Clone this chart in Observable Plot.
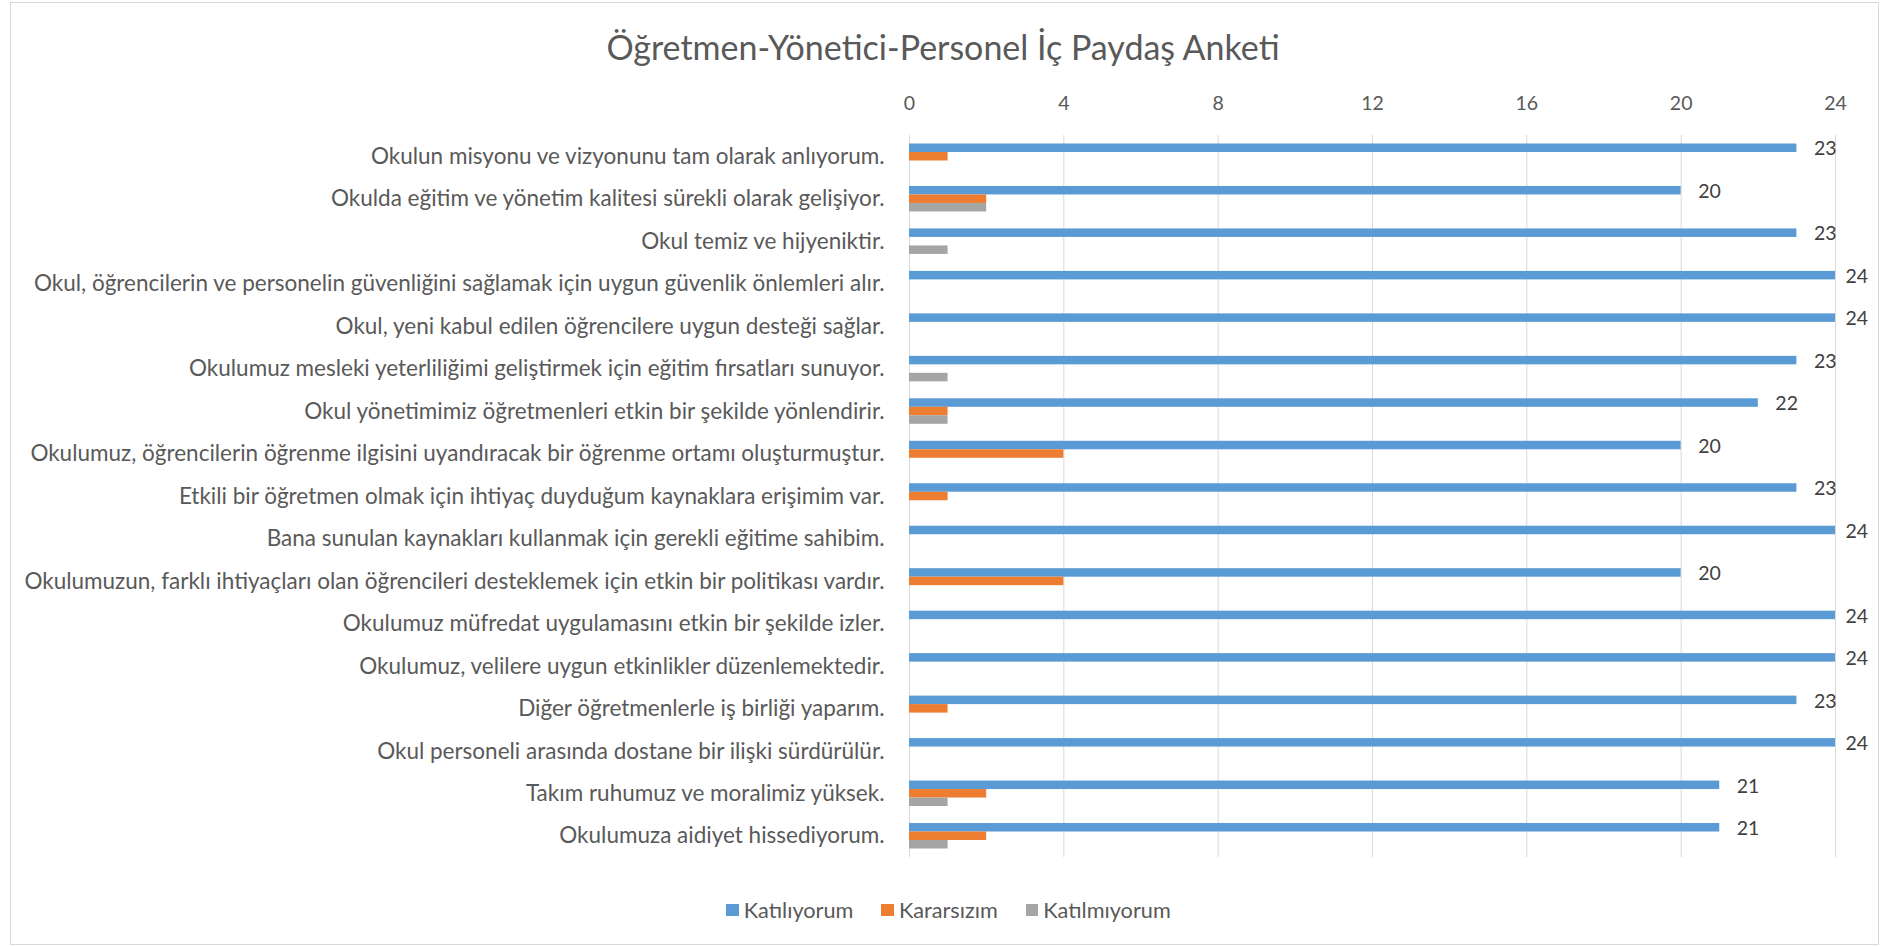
<!DOCTYPE html>
<html>
<head>
<meta charset="utf-8">
<script src="https://cdn.jsdelivr.net/npm/d3@7"></script>
<script src="https://cdn.jsdelivr.net/npm/@observablehq/plot@0.6"></script>
<style>
  html, body { margin: 0; padding: 0; background: #fff; }
  #wrap { position: relative; width: 1885px; height: 947px; font-family: Lato, "Open Sans", sans-serif; color: #595959; overflow: hidden; }
  #frame { position: absolute; left: 10px; top: 2px; width: 1867px; height: 941px; border: 1px solid #d9d9d9; }
  #title { position: absolute; left: 0; top: 0; width: 1886px; height: 94px; line-height: 94px; text-align: center; font-size: 34px; color: #595959; }
  #chart { position: absolute; left: 0; top: 80px; }
  #legend { position: absolute; left: 6px; top: 895px; width: 1885px; height: 30px; display: flex; justify-content: center; align-items: center; font-size: 21.7px; color: #595959; }
  .item { display: flex; align-items: center; margin: 0 14px; }
  .sw { width: 12.5px; height: 12.5px; margin-right: 5px; }
</style>
</head>
<body>
<div id="wrap">
  <div id="frame"></div>
  <div id="title">Öğretmen-Yönetici-Personel İç Paydaş Anketi</div>
  <div id="chart"></div>
  <div id="legend"></div>
</div>
<script>
const questions = [
  "Okulun misyonu ve vizyonunu tam olarak anlıyorum.",
  "Okulda eğitim ve yönetim kalitesi sürekli olarak gelişiyor.",
  "Okul temiz ve hijyeniktir.",
  "Okul, öğrencilerin ve personelin güvenliğini sağlamak için uygun güvenlik önlemleri alır.",
  "Okul, yeni kabul edilen öğrencilere uygun desteği sağlar.",
  "Okulumuz mesleki yeterliliğimi geliştirmek için eğitim fırsatları sunuyor.",
  "Okul yönetimimiz öğretmenleri etkin bir şekilde yönlendirir.",
  "Okulumuz, öğrencilerin öğrenme ilgisini uyandıracak bir öğrenme ortamı oluşturmuştur.",
  "Etkili bir öğretmen olmak için ihtiyaç duyduğum kaynaklara erişimim var.",
  "Bana sunulan kaynakları kullanmak için gerekli eğitime sahibim.",
  "Okulumuzun, farklı ihtiyaçları olan öğrencileri desteklemek için etkin bir politikası vardır.",
  "Okulumuz müfredat uygulamasını etkin bir şekilde izler.",
  "Okulumuz, velilere uygun etkinlikler düzenlemektedir.",
  "Diğer öğretmenlerle iş birliği yaparım.",
  "Okul personeli arasında dostane bir ilişki sürdürülür.",
  "Takım ruhumuz ve moralimiz yüksek.",
  "Okulumuza aidiyet hissediyorum."
];
const katiliyorum  = [23, 20, 23, 24, 24, 23, 22, 20, 23, 24, 20, 24, 24, 23, 24, 21, 21];
const kararsizim   = [1, 2, 0, 0, 0, 0, 1, 4, 1, 0, 4, 0, 0, 1, 0, 2, 2];
const katilmiyorum = [0, 2, 1, 0, 0, 1, 1, 0, 0, 0, 0, 0, 0, 0, 0, 1, 1];
const seriesNames = ["Katılıyorum", "Kararsızım", "Katılmıyorum"];
const seriesColors = ["#5B9BD5", "#ED7D31", "#A5A5A5"];
const xTicks = [0, 4, 8, 12, 16, 20, 24];

const seriesValues = [katiliyorum, kararsizim, katilmiyorum];
const rows = seriesValues.map((vals, si) =>
  questions.map((q, qi) => ({q, s: seriesNames[si], v: vals[qi]}))
);

const W = 1885, H = 800, mT = 55, mB = 23, mL = 909, mR = 50;
const pad = 0.4;
const step = (H - mT - mB) / questions.length;
const ext = 0.2 * step;
const third = step * (1 - pad) / 3;

const numStyle = {fontSize: 19.5, fill: "#404040", textAnchor: "start"};
const maxVal = d3.max(xTicks);

const plot = Plot.plot({
  width: W, height: H,
  marginTop: mT, marginBottom: mB, marginLeft: mL, marginRight: mR,
  style: {fontFamily: "Lato, 'Open Sans', sans-serif", fontSize: "22.5px", color: "#595959", background: "transparent"},
  x: {domain: [0, maxVal], axis: null},
  y: {domain: questions, range: [mT - ext, H - mB + ext], padding: pad, round: false, tickSize: 0, tickPadding: 25, label: null},
  marks: [
    Plot.ruleX(xTicks, {stroke: "#d9d9d9", strokeWidth: 1}),
    Plot.axisX(xTicks, {anchor: "top", tickSize: 0, tickPadding: 26, label: null, fontSize: 19.5}),
    Plot.barX(rows[0], {x: "v", y: "q", fill: seriesColors[0], insetBottom: 2 * third}),
    Plot.barX(rows[1], {x: "v", y: "q", fill: seriesColors[1], insetTop: third, insetBottom: third}),
    Plot.barX(rows[2], {x: "v", y: "q", fill: seriesColors[2], insetTop: 2 * third}),
    Plot.text(rows[0].filter(d => d.v < maxVal), {x: "v", y: "q", text: d => String(d.v), dx: 17, dy: -third + 1, ...numStyle}),
    Plot.text(rows[0].filter(d => d.v >= maxVal), {x: "v", y: "q", text: d => String(d.v), dx: 10, dy: -third + 1, ...numStyle})
  ]
});
document.getElementById("chart").appendChild(plot);

const legend = document.getElementById("legend");
seriesNames.forEach((name, i) => {
  const item = document.createElement("div");
  item.className = "item";
  const sw = document.createElement("div");
  sw.className = "sw";
  sw.style.background = seriesColors[i];
  const lab = document.createElement("span");
  lab.textContent = name;
  item.appendChild(sw);
  item.appendChild(lab);
  legend.appendChild(item);
});
</script>
</body>
</html>
